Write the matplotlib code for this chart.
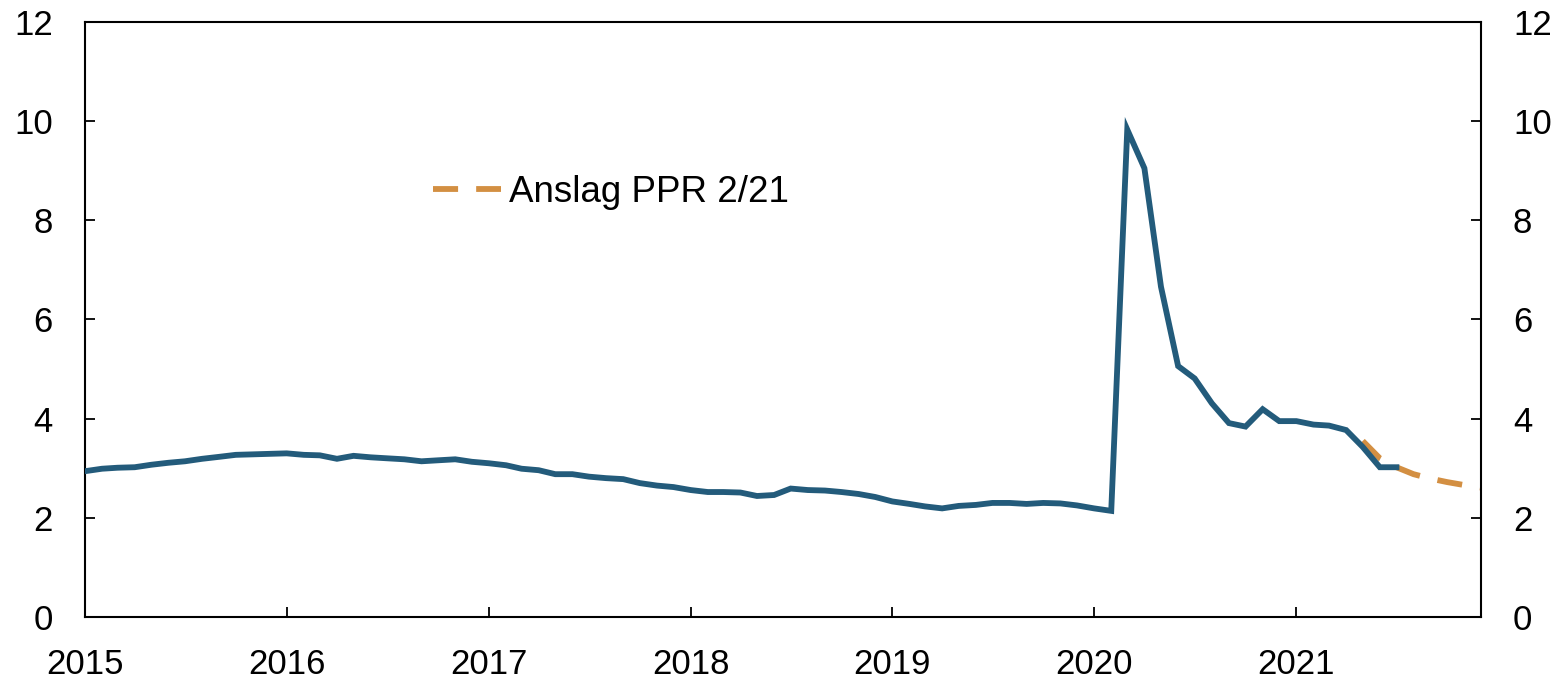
import matplotlib
matplotlib.use("Agg")
import matplotlib.pyplot as plt
import matplotlib.dates as mdates
import pandas as pd
import datetime as dt

plt.rcParams['font.family'] = ['Liberation Sans', 'DejaVu Sans']

# Registered unemployment, monthly from Jan 2015 to Jul 2021
actual_start = '2015-01-01'
actual = [2.94, 2.99, 3.01, 3.02, 3.07, 3.11, 3.14, 3.19, 3.23, 3.27, 3.28, 3.29,
          3.30, 3.27, 3.26, 3.19, 3.25, 3.22, 3.20, 3.18, 3.14, 3.16, 3.18, 3.13,
          3.10, 3.06, 2.99, 2.96, 2.88, 2.88, 2.83, 2.80, 2.78, 2.70, 2.65, 2.62,
          2.56, 2.52, 2.52, 2.51, 2.44, 2.46, 2.59, 2.56, 2.55, 2.52, 2.48, 2.42,
          2.33, 2.28, 2.23, 2.19, 2.24, 2.26, 2.30, 2.30, 2.28, 2.30, 2.29, 2.25,
          2.19, 2.14, 9.83, 9.05, 6.66, 5.06, 4.81, 4.31, 3.91, 3.84, 4.19, 3.95,
          3.95, 3.88, 3.86, 3.77, 3.43, 3.02, 3.02]

# Forecast PPR 2/21, monthly from May 2021
fc_start = '2021-05-01'
forecast = [3.55, 3.20, 3.02, 2.88, 2.79, 2.72, 2.66, 2.61]
fc_label = 'Anslag PPR 2/21'

blue = '#235B7B'
orange = '#D38F42'

dates_act = pd.date_range(actual_start, periods=len(actual), freq='MS')
dates_fc = pd.date_range(fc_start, periods=len(forecast), freq='MS')

fig = plt.figure(figsize=(15.67, 6.78), dpi=100)
ax = fig.add_axes([0.0542, 0.09, 0.8909, 0.8776])

ax.plot(dates_fc, forecast, color=orange, lw=4.2, dashes=(4.3, 3.1),
        label=fc_label, zorder=2)
ax.plot(dates_act, actual, color=blue, lw=4.2, zorder=3,
        solid_joinstyle='miter')

ax.set_ylim(0, 12)
ax.set_yticks(range(0, 13, 2))
ax.set_xlim(dt.date(2015, 1, 1), dt.date(2021, 12, 1))
ax.xaxis.set_major_locator(mdates.YearLocator())
ax.xaxis.set_major_formatter(mdates.DateFormatter('%Y'))

for s in ax.spines.values():
    s.set_linewidth(1.5)
ax.tick_params(axis='y', direction='in', length=7.5, width=1.3, labelsize=25,
               pad=23, right=True, labelright=True)
ax.tick_params(axis='x', direction='in', length=7.5, width=1.3, labelsize=25,
               pad=22)

ax.legend(loc='center left', bbox_to_anchor=(0.249, 0.714), frameon=False,
          fontsize=26.5, handlelength=1.87, handletextpad=0.22, borderpad=0,
          borderaxespad=0)

fig.savefig('out.png', dpi=100)
